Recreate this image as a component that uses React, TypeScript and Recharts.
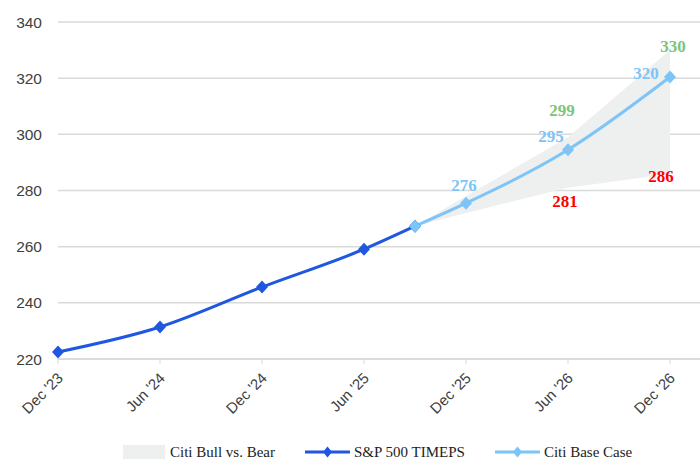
import { ComposedChart, Line, Area, XAxis, YAxis, CartesianGrid, Legend, LabelList } from "recharts";

// months since Dec '23
const MONTHS = [0, 6, 12, 18, 21, 24, 30, 36];
const TICK_MONTHS = [0, 6, 12, 18, 24, 30, 36];
const TICK_LABELS = ["Dec '23", "Jun '24", "Dec '24", "Jun '25", "Dec '25", "Jun '26", "Dec '26"];
const Y_TICKS = [220, 240, 260, 280, 300, 320, 340];

const EPS = [222.5, 231.4, 245.6, 259.1, 267.3, null, null, null];
const BASE = [null, null, null, null, 267.3, 275.5, 294.5, 320.4];
const BULL = [null, null, null, null, 267.3, 278, 299, 330];
const BEAR = [null, null, null, null, 267.3, 272, 281, 286];

const DARK = "#1F57E0";
const LIGHT = "#7DC4F8";
const GREEN = "#7CC47A";
const RED = "#FF0000";
const BAND = "#EEEFEF";
const GRID = "#DADADA";

const data = MONTHS.map((m, i) => ({
  m,
  eps: EPS[i],
  base: BASE[i],
  bull: BULL[i],
  bear: BEAR[i],
  band: BULL[i] != null && BEAR[i] != null ? [BEAR[i], BULL[i]] : null,
}));

// label nudges per point index (relative to the point)
const BASE_OFF: Record<number, [number, number]> = { 5: [-2, -18], 6: [-17, -13], 7: [-24, -4] };
const BULL_OFF: Record<number, [number, number]> = { 6: [-6, -27], 7: [3, -4] };
const BEAR_OFF: Record<number, [number, number]> = { 6: [-3, 14], 7: [-9, 3] };

const diamond = (color: string) => (props: any) => {
  const { cx, cy, index } = props;
  if (cx == null || cy == null || props.value == null) return <g key={index} />;
  return (
    <polygon
      key={index}
      points={`${cx},${cy - 6.5} ${cx + 6},${cy} ${cx},${cy + 6.5} ${cx - 6},${cy}`}
      fill={color}
    />
  );
};

const valueLabel = (color: string, offs: Record<number, [number, number]>) => (props: any) => {
  const { x, y, value, index } = props;
  const off = offs[index];
  if (!off || value == null) return null;
  return (
    <text
      x={x + off[0]}
      y={y + off[1]}
      textAnchor="middle"
      dominantBaseline="central"
      fill={color}
      fontFamily="'Liberation Serif', serif"
      fontWeight="bold"
      fontSize={17}
    >
      {Math.round(value)}
    </text>
  );
};

const XTick = (props: any) => {
  const { x, y, payload } = props;
  const i = TICK_MONTHS.indexOf(payload.value);
  const ax = x + 6;
  const ay = y + 13;
  return (
    <text
      x={ax}
      y={ay}
      textAnchor="end"
      transform={`rotate(-45, ${ax}, ${ay})`}
      fill="#404040"
      fontFamily="'Liberation Sans', Arial, sans-serif"
      fontSize={15}
    >
      {TICK_LABELS[i]}
    </text>
  );
};

const LineSwatch = ({ color }: { color: string }) => (
  <svg width={45} height={14} style={{ display: "block" }}>
    <line x1={0} y1={7} x2={45} y2={7} stroke={color} strokeWidth={3} />
    <polygon points="22.5,1.5 27,7 22.5,12.5 18,7" fill={color} />
  </svg>
);

const renderLegend = () => (
  <div
    style={{
      height: 24,
      display: "flex",
      alignItems: "center",
      paddingLeft: 123,
      fontFamily: "'Liberation Serif', serif",
      fontSize: 15,
      color: "#222",
      whiteSpace: "nowrap",
    }}
  >
    <div style={{ width: 42, height: 14, background: BAND }} />
    <span style={{ marginLeft: 5 }}>Citi Bull vs. Bear</span>
    <span style={{ marginLeft: 30 }}>
      <LineSwatch color={DARK} />
    </span>
    <span style={{ marginLeft: 4 }}>S&amp;P 500 TIMEPS</span>
    <span style={{ marginLeft: 30 }}>
      <LineSwatch color={LIGHT} />
    </span>
    <span style={{ marginLeft: 4 }}>Citi Base Case</span>
  </div>
);

export default function App() {
  return (
    <div style={{ position: "absolute", left: 0, top: 0, background: "#fff" }}>
      <ComposedChart width={700} height={474} data={data} margin={{ top: 22, right: 0, bottom: 10, left: 0 }}>
        <CartesianGrid vertical={false} stroke={GRID} strokeWidth={1.5} />
        <XAxis
          dataKey="m"
          type="number"
          domain={[0, 36]}
          ticks={TICK_MONTHS}
          padding={{ left: 0, right: 30 }}
          height={81}
          tickSize={5}
          stroke={GRID}
          tickLine={{ stroke: GRID }}
          axisLine={{ stroke: GRID, strokeWidth: 1.5 }}
          tick={<XTick />}
          interval={0}
        />
        <YAxis
          domain={[220, 340]}
          ticks={Y_TICKS}
          width={58}
          tickSize={0}
          tickMargin={16}
          axisLine={false}
          tickLine={false}
          tick={{ fill: "#404040", fontSize: 15.5, fontFamily: "'Liberation Sans', Arial, sans-serif" }}
        />
        <Legend verticalAlign="bottom" content={renderLegend} />
        <Area
          dataKey="band"
          type="linear"
          stroke="none"
          fill={BAND}
          fillOpacity={1}
          isAnimationActive={false}
          activeDot={false}
          legendType="none"
        />
        <Line
          dataKey="eps"
          type="monotone"
          stroke={DARK}
          strokeWidth={3}
          dot={diamond(DARK)}
          activeDot={false}
          isAnimationActive={false}
        />
        <Line
          dataKey="base"
          type="monotone"
          stroke={LIGHT}
          strokeWidth={3}
          dot={diamond(LIGHT)}
          activeDot={false}
          isAnimationActive={false}
        >
          <LabelList dataKey="base" content={valueLabel(LIGHT, BASE_OFF)} />
        </Line>
        <Line dataKey="bull" stroke="none" dot={false} activeDot={false} isAnimationActive={false} legendType="none">
          <LabelList dataKey="bull" content={valueLabel(GREEN, BULL_OFF)} />
        </Line>
        <Line dataKey="bear" stroke="none" dot={false} activeDot={false} isAnimationActive={false} legendType="none">
          <LabelList dataKey="bear" content={valueLabel(RED, BEAR_OFF)} />
        </Line>
      </ComposedChart>
    </div>
  );
}
